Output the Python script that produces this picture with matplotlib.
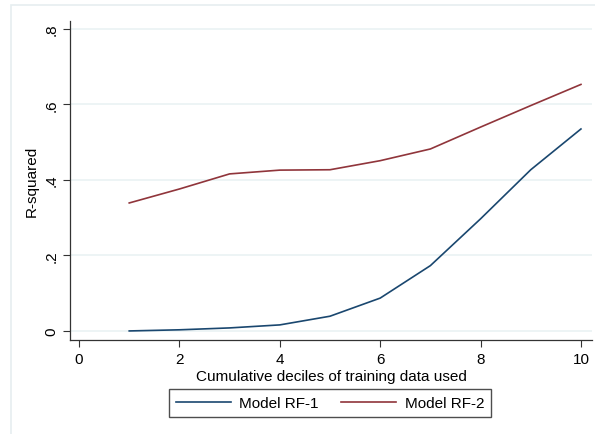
import matplotlib
matplotlib.use("Agg")
import matplotlib.pyplot as plt
from matplotlib.patches import Rectangle

# cumulative deciles of training data
deciles = [1, 2, 3, 4, 5, 6, 7, 8, 9, 10]
r2_rf1 = [0.000, 0.003, 0.008, 0.016, 0.039, 0.087, 0.173, 0.297, 0.427, 0.535]
r2_rf2 = [0.339, 0.376, 0.416, 0.426, 0.427, 0.451, 0.482, 0.540, 0.597, 0.653]
y_ticks = [0, 0.2, 0.4, 0.6, 0.8]
y_tick_labels = ["0", ".2", ".4", ".6", ".8"]
x_ticks = [0, 2, 4, 6, 8, 10]

plt.rcParams['font.family'] = ['Liberation Sans', 'DejaVu Sans']

fig = plt.figure(figsize=(5.95, 4.35), dpi=100)
fig.patch.set_facecolor('white')
# faint outer graph-region frame (only top and left visible)
fig.patches.append(Rectangle((11 / 595, -0.1), 1.2, 1 - 6 / 435 + 0.1,
                             transform=fig.transFigure, fill=False,
                             edgecolor='#e6eef0', linewidth=1.2))

ax = fig.add_axes([70 / 595, 1 - 341 / 435, 522 / 595, 319 / 435])
ax.plot(deciles, r2_rf1, color='#1a476f', linewidth=1.2, label='Model RF-1')
ax.plot(deciles, r2_rf2, color='#90353b', linewidth=1.2, label='Model RF-2')

ax.set_xlim(-0.18, 10.22)
ax.set_ylim(-0.024, 0.821)
ax.set_xticks(x_ticks)
ax.set_yticks(y_ticks)
ax.set_yticklabels(y_tick_labels, rotation=90, va='center')
ax.tick_params(labelsize=11, length=5, width=0.8, color='#333333')
ax.grid(axis='y', color='#eaf2f3', linewidth=1.2)
ax.set_axisbelow(True)
for s in ['top', 'right']:
    ax.spines[s].set_visible(False)
for s in ['left', 'bottom']:
    ax.spines[s].set_color('#333333')
    ax.spines[s].set_linewidth(0.9)

ax.set_xlabel('Cumulative deciles of training data used', fontsize=11, labelpad=2)
ax.set_ylabel('R-squared', fontsize=11, labelpad=4)

leg = fig.legend(loc='center', bbox_to_anchor=(330 / 595, 1 - 404 / 435), ncol=2,
                 fontsize=11, frameon=True, fancybox=False, handlelength=3.6,
                 columnspacing=1.5, borderpad=0.45, handletextpad=0.55)
leg.get_frame().set_edgecolor('#222222')
leg.get_frame().set_linewidth(1.0)

fig.savefig('out.png', dpi=100)
